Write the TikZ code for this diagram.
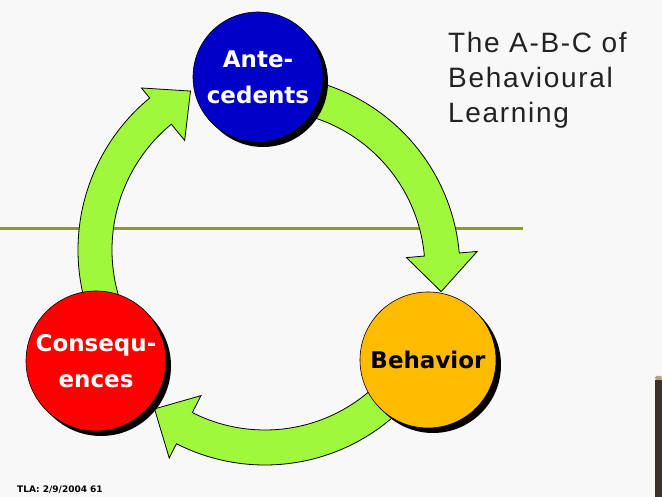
\documentclass[tikz,border=0pt]{standalone}
\usepackage{fontspec}
\setmainfont{Liberation Sans}
\newfontfamily\lblfont{DejaVu Sans}
\newfontfamily\titlefont{Liberation Sans}[LetterSpace=6]
\usetikzlibrary{shadows}
\definecolor{bgwhite}{HTML}{F8F8F8}
\definecolor{arrowgreen}{HTML}{A0F83C}
\definecolor{oliveline}{HTML}{8C9B28}
\definecolor{abcblue}{HTML}{0000C8}
\definecolor{abcorange}{HTML}{FFBB00}
\definecolor{abcred}{HTML}{FF0000}
\definecolor{darkbar}{HTML}{3B3128}
\definecolor{tanbar}{HTML}{B8A078}
\definecolor{titlegray}{HTML}{222222}
\begin{document}
\begin{tikzpicture}[x=1pt,y=1pt,
  bubble/.style={circle, inner sep=0pt, draw=black, line width=0.6pt, align=center,
    font=\lblfont\bfseries\fontsize{23}{36}\selectfont,
    drop shadow={fill=black, opacity=1, shadow xshift=5pt, shadow yshift=-5pt}},
  band/.style={fill=arrowgreen, draw=black, line width=0.8pt, line join=miter}]
\fill[bgwhite] (0,0) rectangle (662,497);
\useasboundingbox (0,0) rectangle (662,497);
% horizontal rule
\draw[oliveline, line width=3pt] (0,268) -- (523,268);
% curved arrows
\begin{scope}[shift={(265,227)}]
  \draw[band] (73:160) arc[start angle=73, end angle=5, radius=160]
    -- (5:142) -- (-7:177.5) -- (5:213) -- (5:195)
    arc[start angle=5, end angle=73, radius=195] -- cycle;
  \draw[band] (-45:160) arc[start angle=-45, end angle=-117, radius=160]
    -- (-117:141) -- (-128.5:177.5) -- (-117:211) -- (-117:195)
    arc[start angle=-117, end angle=-45, radius=195] -- cycle;
\end{scope}
\begin{scope}[shift={(275,247)}]
  \draw[band] (200:163) arc[start angle=200, end angle=129.5, radius=163]
    -- (129.5:142) -- (118:180) -- (129.5:210) -- (129.5:197)
    arc[start angle=129.5, end angle=200, radius=197] -- cycle;
\end{scope}
% circles
\node[bubble, fill=abcblue, text=white, minimum size=130pt] (ante) at (258,420) {Ante-\\cedents};
\node[bubble, fill=abcorange, text=black, minimum size=136pt] (beh) at (428,137) {Behavior};
\node[bubble, fill=abcred, text=white, minimum size=140pt] (cons) at (96,136) {Consequ-\\ences};
% title
\node[anchor=north west, inner sep=0pt, align=left, text=titlegray, font=\titlefont\fontsize{28}{35}\selectfont] (title) at (448,465) {The A-B-C of\\Behavioural\\Learning};
% footer stamp
\node[anchor=west, inner sep=0pt, font=\lblfont\bfseries\fontsize{9}{9}\selectfont] (stamp) at (17,7) {TLA: 2/9/2004 61};
% dark bar at right edge
\fill[darkbar] (655,0) rectangle (662,117);
\fill[tanbar, rounded corners=2pt] (655,117) -- (655,121) -- (662,121) -- (662,117) -- cycle;
\end{tikzpicture}
\end{document}
